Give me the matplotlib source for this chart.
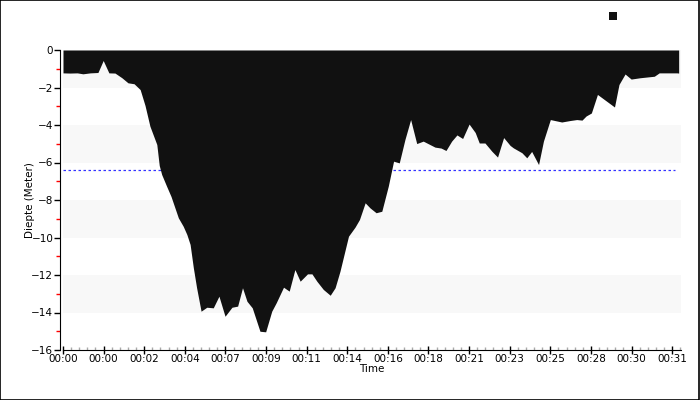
import matplotlib
matplotlib.use("Agg")
import matplotlib.pyplot as plt
from matplotlib.ticker import MultipleLocator, FixedLocator

# dive profile, x in tick positions along the time axis
t = [0.00, 0.17, 0.35, 0.49, 0.67, 0.86, 0.99, 1.13, 1.28, 1.45,
     1.60, 1.75, 1.90, 2.02, 2.14, 2.31, 2.37, 2.43, 2.55, 2.66,
     2.84, 2.96, 3.05, 3.13, 3.21, 3.29, 3.40, 3.54, 3.70, 3.84,
     3.99, 4.16, 4.30, 4.42, 4.53, 4.66, 4.85, 4.99, 5.14, 5.25,
     5.43, 5.57, 5.71, 5.84, 6.02, 6.13, 6.25, 6.41, 6.58, 6.70,
     6.82, 7.03, 7.19, 7.30, 7.44, 7.56, 7.71, 7.85, 8.01, 8.14,
     8.28, 8.42, 8.56, 8.71, 8.87, 9.16, 9.31, 9.43, 9.57, 9.70,
     9.84, 10.00, 10.15, 10.25, 10.39, 10.56, 10.70, 10.85, 11.01, 11.09,
     11.30, 11.42, 11.54, 11.71, 11.83, 12.00, 12.28, 12.49, 12.65, 12.78,
     12.88, 13.01, 13.16, 13.58, 13.69, 13.84, 13.99, 14.21, 14.34, 14.56,
     14.68, 15.12, 15.16]
depth = [-1.22, -1.23, -1.22, -1.27, -1.22, -1.20, -0.56, -1.22, -1.23, -1.48,
         -1.75, -1.80, -2.11, -2.96, -4.06, -5.04, -6.16, -6.64, -7.26, -7.81,
         -8.95, -9.40, -9.84, -10.37, -11.62, -12.68, -13.93, -13.72, -13.75, -13.13,
         -14.20, -13.72, -13.66, -12.68, -13.40, -13.75, -15.00, -15.03, -13.93, -13.48,
         -12.65, -12.86, -11.71, -12.33, -11.94, -11.94, -12.33, -12.77, -13.08, -12.68,
         -11.80, -9.93, -9.45, -9.04, -8.15, -8.42, -8.68, -8.60, -7.26, -5.93,
         -6.02, -4.77, -3.71, -4.99, -4.86, -5.18, -5.23, -5.36, -4.86, -4.53,
         -4.72, -3.95, -4.40, -4.96, -4.96, -5.40, -5.71, -4.67, -5.09, -5.22,
         -5.48, -5.75, -5.41, -6.11, -4.86, -3.71, -3.84, -3.76, -3.71, -3.74,
         -3.52, -3.36, -2.37, -3.04, -1.84, -1.28, -1.55, -1.48, -1.45, -1.40,
         -1.22, -1.22, -1.23]

time_labels = ["00:00", "00:00", "00:02", "00:04", "00:07", "00:09", "00:11", "00:14",
               "00:16", "00:18", "00:21", "00:23", "00:25", "00:28", "00:30", "00:31"]
ref_depth = -6.4

fig = plt.figure(figsize=(7, 4), dpi=100)
ax = fig.add_axes([0.09, 0.125, 0.883, 0.75])

# alternating bands
for lo in range(-14, 1, 4):
    ax.axhspan(lo, lo + 2, color="#f8f8f8", lw=0, zorder=0)

ax.axhline(ref_depth, xmin=0, xmax=0.99, color="#3333ff", lw=0.9,
           linestyle=(0, (2, 2)), zorder=1)
ax.fill_between(t, 0, depth, color="#111111", lw=0, zorder=2, label=" ")

ax.set_xlim(0, 15.22)
ax.set_ylim(-16, 0)

ax.yaxis.set_major_locator(MultipleLocator(2))
ax.yaxis.set_minor_locator(MultipleLocator(1))
ax.tick_params(axis="y", which="major", length=4, width=1, color="black", labelsize=7.5, pad=1)
ax.tick_params(axis="y", which="minor", length=3, width=1, color="red")

ax.xaxis.set_major_locator(FixedLocator(range(len(time_labels))))
ax.set_xticklabels(time_labels)
ax.xaxis.set_minor_locator(MultipleLocator(0.2))
ax.tick_params(axis="x", which="major", direction="inout", length=6, width=1,
               color="black", labelsize=7.5, pad=0)
ax.tick_params(axis="x", which="minor", direction="in", length=2, width=1, color="#aaaaaa")

for s in ["top", "right"]:
    ax.spines[s].set_visible(False)
ax.spines["left"].set_position(("outward", 2))

ax.set_ylabel("Diepte (Meter)", fontsize=7.5, labelpad=-3)
ax.set_xlabel("Time", fontsize=7.5, labelpad=0)

fig.legend(loc="upper left", bbox_to_anchor=(0.856, 1.0), frameon=False,
           handlelength=0.55, handleheight=0.55, handletextpad=0, borderpad=0.2)

fig.patches.append(plt.Rectangle((0.0007, 0.0012), 0.9985, 0.9976, transform=fig.transFigure,
                                 fill=False, edgecolor="black", lw=1.2))

fig.savefig("out.png", dpi=100)
